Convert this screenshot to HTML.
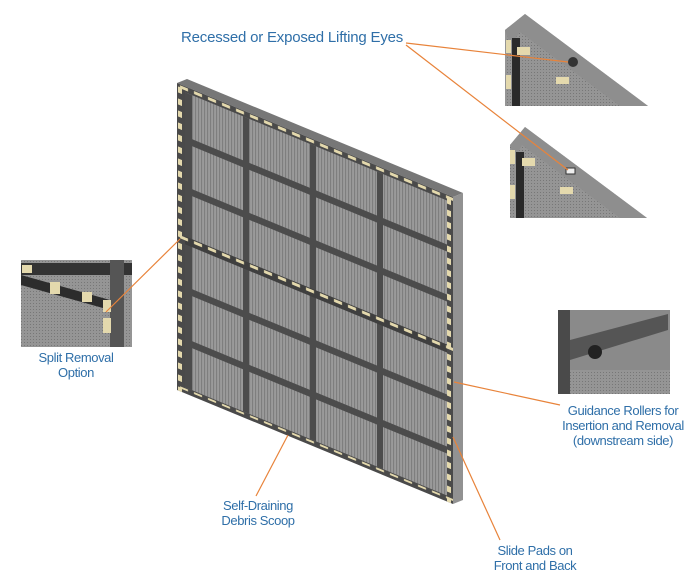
<!DOCTYPE html>
<html><head><meta charset="utf-8"><style>
html,body{margin:0;padding:0;background:#fff}
body{width:700px;height:587px;position:relative;overflow:hidden;font-family:"Liberation Sans Narrow","Liberation Sans",sans-serif;color:#2f6fa8}
.l{position:absolute;text-align:center;font-size:13px;line-height:15px;white-space:nowrap;letter-spacing:-0.4px}
</style></head><body>
<svg width="700" height="587" style="position:absolute;left:0;top:0">
<defs>
<pattern id="mesh" width="3" height="4" patternUnits="userSpaceOnUse">
<rect width="3" height="4" fill="#9a9a9a"/><rect width="1" height="4" fill="#7c7c7c"/>
</pattern>
<pattern id="fine" width="3" height="3" patternUnits="userSpaceOnUse">
<rect width="3" height="3" fill="#959595"/><rect width="1" height="1" fill="#777"/>
</pattern>
<pattern id="padv" width="10" height="12" patternUnits="userSpaceOnUse">
<rect x="0" y="3" width="5" height="6" fill="#e4d9ad"/>
</pattern>
<pattern id="padh" width="14" height="10" patternUnits="userSpaceOnUse">
<rect x="3" y="0" width="8" height="4" fill="#e4d9ad"/>
</pattern>
</defs>
<polygon points="177,83 187,79 463,193 453,197" fill="#777"/>
<polygon points="453,197 463,193 463,500 453,504" fill="#929292"/>
<g transform="matrix(1,0.413,0,1,177,83)">
<rect x="0" y="0" width="276" height="307" fill="#4a4a4a"/>
<rect x="8" y="6" width="262" height="295" fill="url(#mesh)"/>
<rect x="8" y="6" width="7" height="295" fill="#4c4c4c"/>
<rect x="66" y="6" width="6" height="295" fill="#4c4c4c"/>
<rect x="133" y="6" width="6" height="295" fill="#4c4c4c"/>
<rect x="200" y="6" width="6" height="295" fill="#4c4c4c"/>
<rect x="8" y="50" width="262" height="7" fill="#4c4c4c"/>
<rect x="8" y="100" width="262" height="7" fill="#4c4c4c"/>
<rect x="8" y="150" width="262" height="8" fill="#3f3f3f"/>
<rect x="8" y="200" width="262" height="7" fill="#4c4c4c"/>
<rect x="8" y="252" width="262" height="7" fill="#4c4c4c"/>
<rect x="1" y="0" width="5" height="307" fill="url(#padv)"/>
<rect x="269" y="0" width="5" height="307" fill="url(#padv)"/>
<rect x="0" y="1" width="276" height="4" fill="url(#padh)"/>
<rect x="0" y="302" width="276" height="4" fill="url(#padh)"/>
<rect x="0" y="151" width="276" height="4" fill="url(#padh)"/>
</g>
<polygon points="505,30 525,14 648,106 505,106" fill="url(#fine)"/>
<polygon points="505,30 525,14 648,106 620,106 520,32 510,45" fill="#8e8e8e"/>
<rect x="512" y="38" width="8" height="68" fill="#2a2a2a"/>
<rect x="506" y="40" width="5" height="13" fill="#e4d9ad"/><rect x="506" y="75" width="5" height="14" fill="#e4d9ad"/>
<rect x="517" y="47" width="13" height="8" fill="#e4d9ad"/><rect x="556" y="77" width="13" height="7" fill="#e4d9ad"/>
<circle cx="573" cy="62" r="5" fill="#333"/>
<polygon points="510,145 525,127 647,218 510,218" fill="url(#fine)"/>
<polygon points="510,145 525,127 647,218 620,218 522,145 515,158" fill="#8e8e8e"/>
<rect x="516" y="152" width="8" height="66" fill="#2a2a2a"/>
<rect x="510" y="150" width="5" height="14" fill="#e4d9ad"/><rect x="510" y="185" width="5" height="14" fill="#e4d9ad"/>
<rect x="522" y="158" width="13" height="8" fill="#e4d9ad"/><rect x="560" y="187" width="13" height="7" fill="#e4d9ad"/>
<rect x="566" y="168" width="9" height="6" fill="#eee" stroke="#333"/>
<rect x="21" y="260" width="111" height="87" fill="url(#fine)"/>
<rect x="21" y="263" width="111" height="12" fill="#333"/>
<rect x="110" y="260" width="14" height="87" fill="#555"/>
<polygon points="21,275 110,300 110,310 21,285" fill="#2c2c2c"/>
<rect x="22" y="265" width="10" height="8" fill="#e4d9ad"/><rect x="50" y="282" width="10" height="12" fill="#e4d9ad"/>
<rect x="82" y="292" width="10" height="10" fill="#e4d9ad"/><rect x="103" y="300" width="8" height="12" fill="#e4d9ad"/>
<rect x="103" y="318" width="8" height="15" fill="#e4d9ad"/>
<rect x="558" y="310" width="112" height="84" fill="#8a8a8a"/>
<rect x="558" y="310" width="12" height="84" fill="#4a4a4a"/>
<polygon points="570,340 668,314 668,330 570,360" fill="#555"/>
<rect x="570" y="370" width="100" height="24" fill="url(#fine)"/>
<circle cx="595" cy="352" r="7" fill="#222"/>
<g stroke="#e8833a" stroke-width="1.2" fill="none">
<line x1="406" y1="43" x2="568" y2="62"/>
<line x1="406" y1="45" x2="568" y2="170"/>
<line x1="180" y1="239" x2="106" y2="312"/>
<line x1="454" y1="382" x2="560" y2="405"/>
<line x1="453" y1="437" x2="500" y2="540"/>
<line x1="288" y1="435" x2="256" y2="496"/>
</g>
</svg>
<div class="l" style="left:181px;top:29px;font-size:15px;line-height:18px;letter-spacing:-0.2px">Recessed or Exposed Lifting Eyes</div>
<div class="l" style="left:26px;top:350px;width:100px">Split Removal<br>Option</div>
<div class="l" style="left:553px;top:403px;width:140px">Guidance Rollers for<br>Insertion and Removal<br>(downstream side)</div>
<div class="l" style="left:208px;top:498px;width:100px">Self-Draining<br>Debris Scoop</div>
<div class="l" style="left:475px;top:543px;width:120px">Slide Pads on<br>Front and Back</div>
</body></html>
